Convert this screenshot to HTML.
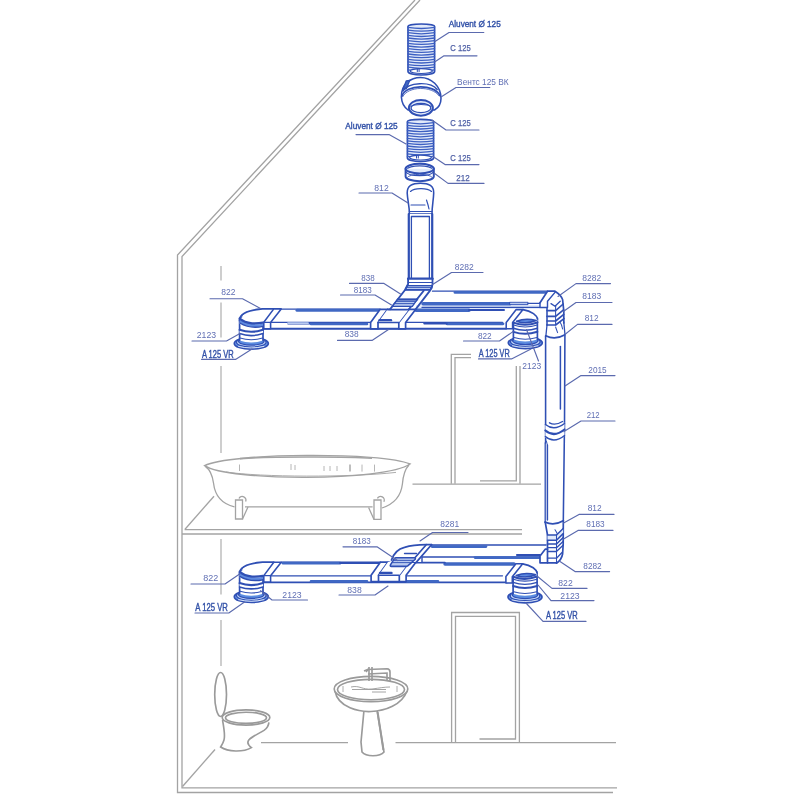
<!DOCTYPE html><html><head><meta charset="utf-8"><title>Ventilation scheme</title>
<style>html,body{margin:0;padding:0;background:#fff}svg{display:block;filter:blur(0.45px)}text{font-family:"Liberation Sans",sans-serif}</style></head><body>
<svg width="800" height="800" viewBox="0 0 800 800">
<rect width="800" height="800" fill="#fff"/>
<g fill="none" stroke="#a3a3a3" stroke-width="1.3" stroke-linecap="butt" stroke-linejoin="miter">
<path d="M415,0 L177.5,255 L177.5,792.5 L613,792.5"/>
<path d="M420,0 L182,256.5 L182,787.8 L617,787.8"/>
<path d="M184.6,529.6 L522,529.6"/>
<path d="M182,534 L522,534"/>
<path d="M185,529.2 L214,496.2"/>
<path d="M221,266 V280.5 M221,302.5 V337.5 M221,366 V453" stroke-width="1.05"/>
<path d="M221,539 V594.5 M221,620 V666" stroke-width="1.05"/>
<path d="M182.5,786.5 L215,749.5"/>
<path d="M261,742.6 H348 M395.5,742.6 H616"/>
<path d="M471,354.3 H451.3 V483.8 M471,357.6 H455 V483.8"/>
<path d="M516.3,366 V480.8 H480 M520,366 V483.8"/>
<path d="M412.5,484.2 H541"/>
<path d="M451.6,743 V612.5 H519.4 V743"/>
<path d="M455.5,743 V616.4 H515.5 V739 H479.5"/>
<path d="M204.6,465.6 C230,452.6 383,452 410,464 C385,481.4 228,481.6 204.6,465.6 Z" fill="#fff" stroke-width="1.4"/>
<path d="M226,472 C260,477.2 350,477.6 396,472.4" stroke-width="0.9"/>
<path d="M240,458.6 C270,456.6 345,456.4 372,458.2" stroke-width="1.6"/>
<path d="M205.6,466.6 C210.5,470 212.5,476 213.5,483 C214.5,492 218,503 234.5,506.8 M245,506.8 H372.6 M409,465 C404,470 403,477 402.4,484 C401.4,493 397,503 382,508"/>
<path d="M235.5,500 H242.5 V519 H235.5 Z M374,500 H381 V519.4 H374 Z" fill="#fff"/>
<path d="M239,498.6 a3.2,3.2 0 0 1 6.6,3 M377.4,498.4 a3.2,3.2 0 0 1 6.4,3.4 M242.5,519 L248,507 M374,519.4 L368.6,507.4"/>
<path d="M239.5,464.5 v6.5 M291,464 v6 M295,465 v5 M324,466 v5 M330,466 v5 M337,466 v5 M362,464.6 v7 M374.5,464.6 v7" stroke-width="0.8"/>
<path d="M350,464.6 v7" stroke-width="1.4"/>
<g stroke="#9a9a9a" stroke-width="1.65">
<ellipse cx="220.6" cy="694.5" rx="5.9" ry="22" fill="#fff"/>
<path d="M222.5,720 C224,728 225.4,735 224,740 C223,743.5 221.5,745.5 220.6,747 C228,752 243,752.5 251.4,747.6 C248.5,745.5 247,742.5 248.8,740 C251.5,736.8 259,733.5 264,730.4 C267,728.4 268.6,725.5 268.9,722.4" fill="#fff"/>
<ellipse cx="246" cy="717.5" rx="23.8" ry="7.6" fill="#fff"/>
<ellipse cx="246" cy="717.8" rx="20.5" ry="5.6"/>
<path d="M361,742 L364,710 H377 L384,752 C380,757 366,757 362,752 Z" fill="#fff"/>
<path d="M335,691 C338,708 360,712 371,711.5 C385,711 402,705 407,691" fill="#fff"/>
<ellipse cx="371" cy="689" rx="36.8" ry="12.6" fill="#fff"/>
<ellipse cx="371" cy="689.5" rx="33.5" ry="10.2"/>
<path d="M351,687 C360,685 362,690 372,689 C380,688 384,687 390,687 M352,689.5 H386 M372,692 h14" stroke-width="0.9"/>
<path d="M366,672 L368,669.5 L387,668.8 Q390,669 390,672 V681.5 M368,674 L387,673 V681"/>
<path d="M369,667 v14 M372,667 v14 M364,671 l5,-2"/>
<path d="M343,686 v6 M397,686 v6" stroke-width="0.8"/>
<path d="M377.6,712 L383.4,750" stroke-width="2"/>
</g>
</g>
<g fill="none" stroke="#2f4fb4" stroke-width="1.30" stroke-linecap="round" stroke-linejoin="round">
<path d="M408,26.2 A13.300000000000011,2.2 0 0 1 434.6,26.2 V71.4 A13.300000000000011,3.6 0 0 1 408,71.4 Z" fill="#e3ebfa" stroke-width="1.69"/>
<path d="M408,27.4 Q421.3,29.6 434.6,27.4" stroke="#3c5fc2" stroke-width="1.30"/>
<path d="M408,30.1 Q421.3,32.3 434.6,30.1" stroke="#3c5fc2" stroke-width="1.30"/>
<path d="M408,32.7 Q421.3,34.9 434.6,32.7" stroke="#3c5fc2" stroke-width="1.30"/>
<path d="M408,35.4 Q421.3,37.6 434.6,35.4" stroke="#3c5fc2" stroke-width="1.30"/>
<path d="M408,38.0 Q421.3,40.2 434.6,38.0" stroke="#3c5fc2" stroke-width="1.30"/>
<path d="M408,40.7 Q421.3,42.9 434.6,40.7" stroke="#3c5fc2" stroke-width="1.30"/>
<path d="M408,43.3 Q421.3,45.5 434.6,43.3" stroke="#3c5fc2" stroke-width="1.30"/>
<path d="M408,46.0 Q421.3,48.2 434.6,46.0" stroke="#3c5fc2" stroke-width="1.30"/>
<path d="M408,48.7 Q421.3,50.9 434.6,48.7" stroke="#3c5fc2" stroke-width="1.30"/>
<path d="M408,51.3 Q421.3,53.5 434.6,51.3" stroke="#3c5fc2" stroke-width="1.30"/>
<path d="M408,54.0 Q421.3,56.2 434.6,54.0" stroke="#3c5fc2" stroke-width="1.30"/>
<path d="M408,56.6 Q421.3,58.8 434.6,56.6" stroke="#3c5fc2" stroke-width="1.30"/>
<path d="M408,59.3 Q421.3,61.5 434.6,59.3" stroke="#3c5fc2" stroke-width="1.30"/>
<path d="M408,61.9 Q421.3,64.1 434.6,61.9" stroke="#3c5fc2" stroke-width="1.30"/>
<path d="M408,64.6 Q421.3,66.8 434.6,64.6" stroke="#3c5fc2" stroke-width="1.30"/>
<path d="M408,67.2 Q421.3,69.4 434.6,67.2" stroke="#3c5fc2" stroke-width="1.30"/>
<path d="M408,69.9 Q421.3,72.1 434.6,69.9" stroke="#3c5fc2" stroke-width="1.30"/>
<ellipse cx="421.3" cy="71.10000000000001" rx="11.100000000000012" ry="2.4000000000000004" fill="#fff" stroke-width="1.17"/>
<path d="M417.3,68.9 v2.6 M419.1,68.9 v2.6" stroke-width="1.04"/>
<path d="M401.4,97 C401,84 411,77.5 420.5,77.5 C431,77.5 441,86 441,98.5 C441,104 438,108 434.5,110 L408,110 C404,107 401.6,102 401.4,97 Z" fill="#fff" stroke-width="1.56"/>
<path d="M406.2,81 L409.7,80.4 L406.3,88.8 L403.2,89 Z" fill="#4068c4"/>
<path d="M403.2,91 C408,81.8 431,81.2 437.2,89.5" stroke-width="1.43"/>
<path d="M401.8,96.3 C406,84 434,83.6 440,95.5" stroke-width="1.69"/>
<path d="M402.8,96.6 C408,86 432,85.6 439,95.8" stroke-width="0.78"/>
<ellipse cx="420.9" cy="107.8" rx="12" ry="7.9" fill="#e3ebfa" stroke-width="1.95"/>
<ellipse cx="420.9" cy="108" rx="9.9" ry="4.6" fill="#fff" stroke-width="1.30"/>
<path d="M411,106.5 C414,103.8 428,103.8 431,106.5" stroke-width="1.04"/>
<path d="M407.4,121.5 A13.100000000000023,2.2 0 0 1 433.6,121.5 V157.9 A13.100000000000023,3.6 0 0 1 407.4,157.9 Z" fill="#e3ebfa" stroke-width="1.69"/>
<path d="M407.4,122.7 Q420.5,124.9 433.6,122.7" stroke="#3c5fc2" stroke-width="1.30"/>
<path d="M407.4,125.3 Q420.5,127.5 433.6,125.3" stroke="#3c5fc2" stroke-width="1.30"/>
<path d="M407.4,127.9 Q420.5,130.1 433.6,127.9" stroke="#3c5fc2" stroke-width="1.30"/>
<path d="M407.4,130.5 Q420.5,132.7 433.6,130.5" stroke="#3c5fc2" stroke-width="1.30"/>
<path d="M407.4,133.1 Q420.5,135.3 433.6,133.1" stroke="#3c5fc2" stroke-width="1.30"/>
<path d="M407.4,135.7 Q420.5,137.9 433.6,135.7" stroke="#3c5fc2" stroke-width="1.30"/>
<path d="M407.4,138.3 Q420.5,140.5 433.6,138.3" stroke="#3c5fc2" stroke-width="1.30"/>
<path d="M407.4,140.8 Q420.5,143.0 433.6,140.8" stroke="#3c5fc2" stroke-width="1.30"/>
<path d="M407.4,143.4 Q420.5,145.6 433.6,143.4" stroke="#3c5fc2" stroke-width="1.30"/>
<path d="M407.4,146.0 Q420.5,148.2 433.6,146.0" stroke="#3c5fc2" stroke-width="1.30"/>
<path d="M407.4,148.6 Q420.5,150.8 433.6,148.6" stroke="#3c5fc2" stroke-width="1.30"/>
<path d="M407.4,151.2 Q420.5,153.4 433.6,151.2" stroke="#3c5fc2" stroke-width="1.30"/>
<path d="M407.4,153.8 Q420.5,156.0 433.6,153.8" stroke="#3c5fc2" stroke-width="1.30"/>
<path d="M407.4,156.4 Q420.5,158.6 433.6,156.4" stroke="#3c5fc2" stroke-width="1.30"/>
<ellipse cx="420.5" cy="157.6" rx="10.900000000000023" ry="2.4000000000000004" fill="#fff" stroke-width="1.17"/>
<path d="M416.5,155.4 v2.6 M418.3,155.4 v2.6" stroke-width="1.04"/>
<path d="M405.6,168.6 A14.1,4.8 0 0 1 433.8,168.6 V176.4 A14.1,4.8 0 0 1 405.6,176.4 Z" fill="#fff" stroke-width="1.95"/>
<path d="M407.2,169.4 A12.5,3.6 0 0 1 432.2,169.4" stroke-width="1.17"/>
<path d="M405.6,168.8 A14.1,4.6 0 0 0 433.8,168.8" fill="#e3ebfa" stroke-width="1.95"/>
<path d="M405.8,171.8 A14.1,4.6 0 0 0 433.6,171.8" stroke-width="1.17"/>
<path d="M407.5,177.2 A12.4,3.4 0 0 1 432,177.2" stroke-width="0.91"/>
<path d="M407.2,193 C407,186 412,183.2 420.5,183.2 C429,183.2 434,186 433.7,193 C433.5,200 432,206 432,214 L409.4,214 C409.4,206 407.5,200 407.2,193 Z" fill="#fff" stroke-width="1.56"/>
<path d="M410.5,191.5 C414,188 427,187.5 431.5,191.5" stroke-width="1.17"/>
<path d="M411,205 H425 M426.5,200 C427.5,203 428.5,206 429,209" stroke-width="1.17"/>
<path d="M409.4,211.5 H432" stroke-width="1.17"/>
<path d="M409.4,214 V278.7 H432.3 V214 Z" fill="#fff" stroke="none"/>
<path d="M408.8,214 V278.7 M432.2,214 V278.7" stroke-width="2.21"/>
<path d="M411.4,216.5 V278.7 M429.4,216.5 V278.7 M411.4,216.5 H429.4" stroke-width="1.30"/>
</g>
<g fill="none" stroke="#2f4fb4" stroke-width="1.30" stroke-linecap="round" stroke-linejoin="round">
<path d="M424,291.2 H548 L540,303 V307.5 H416 L424,303 Z" fill="#fff" stroke="none"/>
<path d="M432.5,291.2 H547.5" stroke-width="1.30"/>
<path d="M455,292.4 H545" stroke="#4068c4" stroke-width="2.80"/>
<path d="M416,305 H540 V309 H416 Z" fill="#e3ebfa" stroke="none"/>
<path d="M423,303.8 H510" stroke="#4068c4" stroke-width="3.50"/>
<path d="M510,302.3 H528 V304.6 H510 Z" fill="#b9caf0" stroke-width="0.91"/>
<path d="M528,303.4 H540" stroke-width="1.30"/>
<path d="M422,307.4 H540" stroke-width="1.17"/>
<path d="M540,302.8 L547.5,291.2 H555 Q562,296 562.8,300 L563.8,312 V323 L565,335.5 H545.6 L546,322.5 V307.5 H540 Z" fill="#fff" stroke="none"/>
<path d="M540,302.8 L547.5,291.2 H555 Q561.5,295.5 562.6,299.6 L563.8,311 V323" stroke-width="1.69"/>
<path d="M540,302.8 V307.5 H547.5 V301.2 L555,292.4" stroke-width="1.43"/>
<path d="M551,303.6 L555,306.3 L560.2,301.2" stroke-width="1.30"/>
<path d="M547,307.5 V325" stroke-width="1.56"/>
<path d="M555.6,306.3 V325" stroke-width="1.04"/>
<path d="M547,310.6 H555.6 L563.2,304 M547,316.4 H555.6 L563.5,309.8 M547,321 H555.6 L563.8,314.4 M547,325 H555.6 L564,318.6" stroke-width="1.62"/>
<path d="M547,325 L545.9,335.8 M563.8,322 L565,335"/>
<path d="M555.6,327 Q556.6,330 557.6,332.6 M560,322 Q562,325 562.6,329" stroke-width="1.04"/>
<path d="M545.6,336 V522.2 Q554,526 563.3,520.8 L565,336 Z" fill="#fff" stroke="none"/>
<path d="M545.7,335.8 Q555,340.5 565,334.8" stroke-width="1.69"/>
<path d="M545.6,336 V443 M564.9,336 L564.5,426 L564.3,440 L563.3,521" stroke-width="1.56"/>
<path d="M560.4,346.5 V409" stroke-width="1.49"/>
<path d="M547.4,445 V520" stroke-width="1.49"/>
<path d="M545.2,443 V522" stroke-width="1.30"/>
<path d="M547.4,445 L546.4,441" stroke-width="0.91"/>
<path d="M545.4,424.5 Q554,431 564.5,422.5 V436 Q554,444 545.4,437.5 Z" fill="#fff" stroke="none"/>
<path d="M549.5,422.8 Q555,426 562.5,421.5" stroke-width="1.43"/>
<path d="M545.4,424.5 Q554,431.5 564.5,423.5" stroke-width="1.43"/>
<path d="M545.4,430.5 Q554,438 564.5,429.5" stroke-width="2.21"/>
<path d="M545.4,436.5 Q554,444 564.5,435.5" stroke-width="1.43"/>
<path d="M281.2,309.4 H523 L512.5,328.8 H263.8 V322.3 L273.8,309.4 Z" fill="#fff" stroke="none"/>
<path d="M281.2,309.1 H380 M387.5,309.1 H390" stroke-width="1.43"/>
<path d="M297,310.2 H380" stroke="#4068c4" stroke-width="3.00"/>
<path d="M416,310.2 H469" stroke="#4068c4" stroke-width="3.50"/>
<path d="M469,310 H504" stroke-width="1.95"/>
<path d="M270.6,322.4 H370.6 M405.6,322.4 H502.5" stroke-width="1.30"/>
<path d="M288,323.8 H340" stroke-width="1.56"/>
<path d="M288,323.2 H308" stroke="#b9caf0" stroke-width="1.82"/>
<path d="M311,324 H367" stroke="#4068c4" stroke-width="2.60"/>
<path d="M447,323.8 H503" stroke="#4068c4" stroke-width="2.80"/>
<path d="M424,323.6 H447" stroke-width="1.56"/>
<path d="M263.8,328.7 H506" stroke-width="2.08"/>
<g transform="translate(0,0)">
<ellipse cx="251.3" cy="343.4" rx="17" ry="5.8" fill="#6a97e6" stroke-width="1.69"/>
<ellipse cx="251.3" cy="342.3" rx="14.8" ry="4.8" fill="#c4d8f8" stroke-width="1.30"/>
<ellipse cx="251.3" cy="341.2" rx="12.8" ry="3.9" fill="#5b8ce0" stroke-width="1.17"/>
<path d="M238.5,346.4 Q251,349.6 264,346.4" stroke="#fff" stroke-width="0.78"/>
<path d="M239.6,318 V340.4 Q251,344.4 263,340.4 V322 Z" fill="#fff" stroke="none"/>
<path d="M239.6,318 V340.4 M263,324 V340.4" stroke-width="1.69"/>
<path d="M240,338 Q251,341.4 262.6,338" stroke-width="1.04"/>
<path d="M239.6,329.6 Q251,333.6 263,329.6 V333.4 Q251,337.4 239.6,333.4 Z" fill="#fff" stroke="none"/>
<path d="M239.6,329.8 Q251,333.8 263,329.8" stroke-width="2.08"/>
<path d="M239.6,333.6 Q251,337.6 263,333.6" stroke-width="1.56"/>
<path d="M239.6,320 C239,313 248,310 262.5,308.9 H273.8 L263.8,322.3 L263,326 Q251,329 239.6,324 Z" fill="#fff" stroke="none"/>
<path d="M239.6,321 C239,313.5 249,310 262.5,308.9 H273.8" stroke-width="1.69"/>
<path d="M239.8,318.6 Q251,326.6 263,323.4 L263,326.2 Q250,329.4 239.8,322.8 Z" fill="#5f8be0" stroke="none"/>
<path d="M239.8,318.6 Q244,322.4 252,323.3 Q258,323.6 263,322.6" stroke-width="2.21"/>
<path d="M239.8,323 Q250,329.2 263,326.4" stroke-width="1.43"/>
<path d="M241.5,317.5 Q241.2,314.5 244,313.5" stroke-width="0.91"/>
<path d="M273.8,308.9 H281.2 L270.6,322.4 V328.8 H263.8 V322.3 Z" fill="#fff" stroke-width="1.56"/>
<path d="M263.8,322.3 H270.6" stroke-width="1.17"/>
</g>
<g transform="translate(0,0)">
<ellipse cx="525.3" cy="342.8" rx="17" ry="5.8" fill="#6a97e6" stroke-width="1.69"/>
<ellipse cx="525.3" cy="341.7" rx="14.8" ry="4.8" fill="#c4d8f8" stroke-width="1.30"/>
<ellipse cx="525.3" cy="340.6" rx="12.8" ry="3.9" fill="#5b8ce0" stroke-width="1.17"/>
<path d="M512.5,345.8 Q525,349 538,345.8" stroke="#fff" stroke-width="0.78"/>
<path d="M513.4,322 V339.6 Q525,343.6 537.4,339.6 V318 Z" fill="#fff" stroke="none"/>
<path d="M513.4,322 V339.6 M537.4,318 V339.6" stroke-width="1.69"/>
<path d="M513.4,328.2 Q525,332.2 537.4,328.2" stroke-width="1.43"/>
<path d="M513.4,331.8 Q525,335.8 537.4,331.8" stroke-width="1.95"/>
<path d="M514,337.6 Q525,341 537,337.6" stroke-width="1.04"/>
<path d="M523,309.6 Q534,312 537.4,318 V321.5 Q526,326 513.4,322.5 V322 Z" fill="#fff" stroke="none"/>
<path d="M523,309.6 Q529,310.6 533.5,313.6 Q537,316 537.4,319" stroke-width="1.69"/>
<path d="M516.5,321.2 Q526,317.8 536.2,320.6 Q526,324.6 516.5,321.2 Z" fill="#5f8be0" stroke-width="1.56"/>
<path d="M513.4,322.6 Q525,327 537.4,322.4" stroke-width="2.08"/>
<path d="M513.6,325 Q525,329 537.2,325" stroke-width="1.17"/>
<path d="M506.2,328.8 V322.4 L516.2,309.6 H523 L512.6,322.6 V328.8 Z" fill="#fff" stroke-width="1.56"/>
</g>
<path d="M408.1,278.7 V284 L405,290 L390,309.4 H410 L430,290.6 Q432.8,287 432.5,284 V278.7 Z" fill="#fff" stroke="none"/>
<g transform="translate(0,0)">
<path d="M380,309.4 H387.5 L378,322.5 V328.8 H370.6 V322.5 Z" fill="#fff" stroke-width="1.69"/>
<path d="M408.8,309.4 H415.6 L405.6,322.5 V328.8 H398.8 V322.5 Z" fill="#fff" stroke-width="1.69"/>
<path d="M387.5,309.4 H408.8 L398.8,322.5 H378 Z" fill="#fff" stroke="none"/>
<path d="M378,322.5 H398.8 M378,328.8 H398.8" stroke-width="1.43"/>
<path d="M379.5,320.2 H391" stroke-width="2.34"/>
</g>
<path d="M408.1,278.7 V284 L405,290 L391.5,308 H409.5 L424,290.6 L430,290.6 Q432.8,287 432.5,284 V278.7 Z" fill="#fff" stroke="none"/>
<path d="M408.1,278.7 H432.5" stroke-width="2.34"/>
<path d="M408.1,282.5 H432.5" stroke-width="1.17"/>
<path d="M407.2,285.6 H432.3 L430.3,289.6 H405.2 Z" fill="#b9caf0" stroke-width="1.17"/>
<path d="M406.4,287.4 H431.4" stroke-width="0.91"/>
<path d="M408.1,278.7 V284 L405,290 L390,309.4" stroke-width="1.82"/>
<path d="M432.5,278.7 V284 Q432.6,287.4 430,290.6 L415.6,309.4" stroke-width="1.82"/>
<path d="M423.8,290.6 L408.8,309.4" stroke-width="1.69"/>
<path d="M405,290.2 H430" stroke-width="1.17"/>
<path d="M397.7,299.4 H417.3 L412.3,306.3 H392.4 Z" fill="#b9caf0" stroke-width="1.30"/>
<path d="M396.4,301.4 H416 M395,303.6 H414.4" stroke-width="0.91"/>
<path d="M397.7,299.4 H417.3" stroke-width="1.95"/>
<path d="M387.5,309.6 H409" stroke-width="1.56"/>
<path d="M431.5,545 H548 L540,557 V562.5 H422 V557 Z" fill="#fff" stroke="none"/>
<path d="M431.5,545 H546" stroke-width="1.43"/>
<path d="M432,546.6 H486" stroke="#4068c4" stroke-width="2.60"/>
<path d="M422.5,557 H540" stroke-width="1.43"/>
<path d="M475,557.6 H540" stroke="#4068c4" stroke-width="2.60"/>
<path d="M517,555 H540" stroke-width="2.08"/>
<path d="M422,557 V562.5" stroke-width="1.43"/>
<path d="M422,562.4 H445" stroke-width="1.30"/>
<path d="M545.2,522.2 L547.5,535 V549.2 H545.2 L540,556 V562.8 H556.5 Q562.5,559 562.8,553 L563.2,544 V520.8 Z" fill="#fff" stroke="none"/>
<path d="M545.2,522.2 Q554,526.2 563.3,520.8" stroke-width="1.82"/>
<path d="M545.2,522.2 L547.5,535 V562.8 M563.3,520.8 L563.2,544 L562.6,554 Q561.5,560 556.5,563.2" stroke-width="1.69"/>
<path d="M555,529.8 Q556.5,532 558,535" stroke-width="1.04"/>
<path d="M547.5,535 H556.5 L563.2,528.5 V533.6 L556.5,540.2 H547.5 Z" fill="#e3ebfa" stroke="none"/>
<path d="M547.5,535 H556.5 L563.2,528.5 M547.5,540.2 H556.5 L563.2,533.6 M547.5,544 H556.5 L563.2,537.5" stroke-width="1.56"/>
<path d="M556.5,535 V563" stroke-width="1.04"/>
<path d="M547.5,547.7 H556.5 L563,541.5 M547.5,551.5 H556.5 L562.8,545.5 M547.5,558.2 H556.5 L562,552.5" stroke-width="1.30"/>
<path d="M540,556 L545.2,549.2 H547.5 M540,556 V562.8 H556.5" stroke-width="1.69"/>
<path d="M281.2,562.7 H523.5 L512.5,582.1 H263.8 V575.6 L273.8,562.7 Z" fill="#fff" stroke="none"/>
<path d="M281.2,562.3 H380.5 M388,562.3 H398" stroke-width="1.43"/>
<path d="M283,563.2 H340" stroke="#4068c4" stroke-width="2.80"/>
<path d="M340,563 H380" stroke-width="1.95"/>
<path d="M445,564 H514" stroke="#4068c4" stroke-width="3.40"/>
<path d="M416,562.8 H445" stroke-width="1.56"/>
<path d="M270.6,575.8 H370.8 M406,575.8 H502.5" stroke-width="1.30"/>
<path d="M263.8,582.4 H507" stroke-width="1.69"/>
<path d="M311,581.4 H367 M407,581.4 H438" stroke="#4068c4" stroke-width="2.60"/>
<g transform="translate(0,253.3)">
<ellipse cx="251.3" cy="343.4" rx="17" ry="5.8" fill="#6a97e6" stroke-width="1.69"/>
<ellipse cx="251.3" cy="342.3" rx="14.8" ry="4.8" fill="#c4d8f8" stroke-width="1.30"/>
<ellipse cx="251.3" cy="341.2" rx="12.8" ry="3.9" fill="#5b8ce0" stroke-width="1.17"/>
<path d="M238.5,346.4 Q251,349.6 264,346.4" stroke="#fff" stroke-width="0.78"/>
<path d="M239.6,318 V340.4 Q251,344.4 263,340.4 V322 Z" fill="#fff" stroke="none"/>
<path d="M239.6,318 V340.4 M263,324 V340.4" stroke-width="1.69"/>
<path d="M240,338 Q251,341.4 262.6,338" stroke-width="1.04"/>
<path d="M239.6,329.6 Q251,333.6 263,329.6 V333.4 Q251,337.4 239.6,333.4 Z" fill="#fff" stroke="none"/>
<path d="M239.6,329.8 Q251,333.8 263,329.8" stroke-width="2.08"/>
<path d="M239.6,333.6 Q251,337.6 263,333.6" stroke-width="1.56"/>
<path d="M239.6,320 C239,313 248,310 262.5,308.9 H273.8 L263.8,322.3 L263,326 Q251,329 239.6,324 Z" fill="#fff" stroke="none"/>
<path d="M239.6,321 C239,313.5 249,310 262.5,308.9 H273.8" stroke-width="1.69"/>
<path d="M239.8,318.6 Q251,326.6 263,323.4 L263,326.2 Q250,329.4 239.8,322.8 Z" fill="#5f8be0" stroke="none"/>
<path d="M239.8,318.6 Q244,322.4 252,323.3 Q258,323.6 263,322.6" stroke-width="2.21"/>
<path d="M239.8,323 Q250,329.2 263,326.4" stroke-width="1.43"/>
<path d="M241.5,317.5 Q241.2,314.5 244,313.5" stroke-width="0.91"/>
<path d="M273.8,308.9 H281.2 L270.6,322.4 V328.8 H263.8 V322.3 Z" fill="#fff" stroke-width="1.56"/>
<path d="M263.8,322.3 H270.6" stroke-width="1.17"/>
</g>
<g transform="translate(-0.3,254.20000000000002)">
<ellipse cx="525.3" cy="342.8" rx="17" ry="5.8" fill="#6a97e6" stroke-width="1.69"/>
<ellipse cx="525.3" cy="341.7" rx="14.8" ry="4.8" fill="#c4d8f8" stroke-width="1.30"/>
<ellipse cx="525.3" cy="340.6" rx="12.8" ry="3.9" fill="#5b8ce0" stroke-width="1.17"/>
<path d="M512.5,345.8 Q525,349 538,345.8" stroke="#fff" stroke-width="0.78"/>
<path d="M513.4,322 V339.6 Q525,343.6 537.4,339.6 V318 Z" fill="#fff" stroke="none"/>
<path d="M513.4,322 V339.6 M537.4,318 V339.6" stroke-width="1.69"/>
<path d="M513.4,328.2 Q525,332.2 537.4,328.2" stroke-width="1.43"/>
<path d="M513.4,331.8 Q525,335.8 537.4,331.8" stroke-width="1.95"/>
<path d="M514,337.6 Q525,341 537,337.6" stroke-width="1.04"/>
<path d="M523,309.6 Q534,312 537.4,318 V321.5 Q526,326 513.4,322.5 V322 Z" fill="#fff" stroke="none"/>
<path d="M523,309.6 Q529,310.6 533.5,313.6 Q537,316 537.4,319" stroke-width="1.69"/>
<path d="M516.5,321.2 Q526,317.8 536.2,320.6 Q526,324.6 516.5,321.2 Z" fill="#5f8be0" stroke-width="1.56"/>
<path d="M513.4,322.6 Q525,327 537.4,322.4" stroke-width="2.08"/>
<path d="M513.6,325 Q525,329 537.2,325" stroke-width="1.17"/>
<path d="M506.2,328.8 V322.4 L516.2,309.6 H523 L512.6,322.6 V328.8 Z" fill="#fff" stroke-width="1.56"/>
</g>
<path d="M392.5,558 Q396,549.5 404.5,547.3 Q413,545 426.2,544.7 H431.5 L417,562 H390 Z" fill="#fff" stroke="none"/>
<g transform="translate(0.5,252.70000000000002)">
<path d="M380,309.4 H387.5 L378,322.5 V328.8 H370.6 V322.5 Z" fill="#fff" stroke-width="1.69"/>
<path d="M408.8,309.4 H415.6 L405.6,322.5 V328.8 H398.8 V322.5 Z" fill="#fff" stroke-width="1.69"/>
<path d="M387.5,309.4 H408.8 L398.8,322.5 H378 Z" fill="#fff" stroke="none"/>
<path d="M378,322.5 H398.8 M378,328.8 H398.8" stroke-width="1.43"/>
<path d="M379.5,320.2 H391" stroke-width="2.34"/>
</g>
<path d="M392.5,558 Q396,549.5 404.5,547.3 Q413,545 426.2,544.7 H431.5 L416.5,562 H390.5 Z" fill="#fff" stroke="none"/>
<path d="M391.5,560 Q395,549.6 404.5,547.3 Q413,545 426.2,544.7 H431.5" stroke-width="1.82"/>
<path d="M426.2,544.7 L409.5,564 M431.5,544.7 L416.2,562.4" stroke-width="1.69"/>
<path d="M404.5,553.5 H416.5" stroke-width="1.30"/>
<path d="M396,557.8 H414.6 Q416,558 415,559.5 L408,565.6 Q407,566.4 405.5,566.4 H391.5 Q389.6,566.2 390.6,564.6 L394.4,558.6 Q395,557.8 396,557.8 Z" fill="#b9caf0" stroke-width="1.56"/>
<path d="M394,560.4 H413.6 M392.6,562.6 H411" stroke-width="0.91"/>
</g>
<g fill="none" stroke="#5b6aae" stroke-width="1.15" stroke-linecap="round" stroke-linejoin="round">
<path d="M483.8,32.5 H449 L435,41.5"/>
<path d="M477,55.8 H444 L435,61.8"/>
<path d="M489.8,87.5 H456 L441,97"/>
<path d="M479,130 H446 L432,120"/>
<path d="M356,134.6 H389 L406,144"/>
<path d="M479,164.6 H445 L433,156.6"/>
<path d="M484,183.4 H448 L434,173"/>
<path d="M359,193 H392 L408,203"/>
<path d="M210,298.7 H242.5 L260.5,308.4"/>
<path d="M192,341 H226.5 L240,333.5"/>
<path d="M201.6,359.4 H235.5 L252,349"/>
<path d="M349.5,283.4 H384 L400.5,294"/>
<path d="M340.5,295 H375 L391.5,305"/>
<path d="M337.5,340.4 H372 L388.5,329.6"/>
<path d="M483,272.5 H451.5 L432.6,284.5"/>
<path d="M610.5,283.6 H576 L558,296.5"/>
<path d="M612,302.5 H576 L563.4,311.5"/>
<path d="M612,324.4 H577.5 L565.5,334"/>
<path d="M463.5,341 H499.5 L513,331.6"/>
<path d="M478.5,358.9 H511.5 L531,349"/>
<path d="M615,375.6 H581 L565,386"/>
<path d="M615,421 H581 L564,431.6"/>
<path d="M614,514.4 H579 L563.6,523"/>
<path d="M613,530.4 H578 L563.6,539"/>
<path d="M609.6,571.6 H575 L560,561.6"/>
<path d="M587,588.4 H552 L537,576"/>
<path d="M594,600.6 H551 L538,585"/>
<path d="M586,621.4 H543 L526,603"/>
<path d="M191,584 H225 L240,573.8"/>
<path d="M307.5,600 H272 L260.6,590.6"/>
<path d="M195,613 H228.8 L244.5,602"/>
<path d="M343,546.8 H377 L397.5,560.6"/>
<path d="M468,532.5 H432.5 L420,541"/>
<path d="M339,595 H375 L388,586"/>
<path d="M538.5,361 L526.5,329.5"/>
</g>
<text x="448.8" y="27.3" font-size="9.3" stroke="#3352a8" stroke-width="0.4" fill="#3352a8" textLength="51.9" lengthAdjust="spacingAndGlyphs">Aluvent Ø 125</text>
<text x="450.3" y="51.199999999999996" font-size="9.4" stroke="#4f60a6" stroke-width="0.25" fill="#4f60a6" textLength="20.4" lengthAdjust="spacingAndGlyphs">C 125</text>
<text x="457.1" y="85.2" font-size="9.8" fill="#606fb4" textLength="51.6" lengthAdjust="spacingAndGlyphs">Вентс 125 ВК</text>
<text x="450.3" y="126.10000000000001" font-size="9.4" stroke="#4f60a6" stroke-width="0.25" fill="#4f60a6" textLength="20.4" lengthAdjust="spacingAndGlyphs">C 125</text>
<text x="345.3" y="129.4" font-size="9.3" stroke="#3352a8" stroke-width="0.4" fill="#3352a8" textLength="52.4" lengthAdjust="spacingAndGlyphs">Aluvent Ø 125</text>
<text x="450.3" y="161.4" font-size="9.4" stroke="#4f60a6" stroke-width="0.25" fill="#4f60a6" textLength="20.4" lengthAdjust="spacingAndGlyphs">C 125</text>
<text x="456.3" y="181.4" font-size="9.4" stroke="#4f60a6" stroke-width="0.25" fill="#4f60a6" textLength="13.4" lengthAdjust="spacingAndGlyphs">212</text>
<text x="374.3" y="190.7" font-size="9.8" fill="#606fb4" textLength="14.4" lengthAdjust="spacingAndGlyphs">812</text>
<text x="221.3" y="294.9" font-size="9.8" fill="#606fb4" textLength="14.2" lengthAdjust="spacingAndGlyphs">822</text>
<text x="196.8" y="337.7" font-size="9.8" fill="#606fb4" textLength="19.3" lengthAdjust="spacingAndGlyphs">2123</text>
<text x="201.9" y="357.5" font-size="10.3" stroke="#3352a8" stroke-width="0.4" fill="#3352a8" textLength="31.8" lengthAdjust="spacingAndGlyphs">A 125 VR</text>
<text x="361.3" y="280.7" font-size="9.8" fill="#606fb4" textLength="13.4" lengthAdjust="spacingAndGlyphs">838</text>
<text x="353.7" y="293.09999999999997" font-size="9.8" fill="#606fb4" textLength="18.0" lengthAdjust="spacingAndGlyphs">8183</text>
<text x="344.7" y="337.2" font-size="9.8" fill="#606fb4" textLength="14.0" lengthAdjust="spacingAndGlyphs">838</text>
<text x="454.8" y="270.2" font-size="9.8" fill="#606fb4" textLength="18.9" lengthAdjust="spacingAndGlyphs">8282</text>
<text x="582.3" y="280.7" font-size="9.8" fill="#606fb4" textLength="18.9" lengthAdjust="spacingAndGlyphs">8282</text>
<text x="582.3" y="299.3" font-size="9.8" fill="#606fb4" textLength="18.9" lengthAdjust="spacingAndGlyphs">8183</text>
<text x="584.6999999999999" y="321.2" font-size="9.8" fill="#606fb4" textLength="14.0" lengthAdjust="spacingAndGlyphs">812</text>
<text x="477.90000000000003" y="339.2" font-size="9.8" fill="#606fb4" textLength="13.8" lengthAdjust="spacingAndGlyphs">822</text>
<text x="478.8" y="357" font-size="10.3" stroke="#3352a8" stroke-width="0.4" fill="#3352a8" textLength="30.9" lengthAdjust="spacingAndGlyphs">A 125 VR</text>
<text x="588.3" y="373.09999999999997" font-size="9.8" fill="#606fb4" textLength="18.4" lengthAdjust="spacingAndGlyphs">2015</text>
<text x="586.6999999999999" y="418.09999999999997" font-size="9.8" fill="#606fb4" textLength="13.0" lengthAdjust="spacingAndGlyphs">212</text>
<text x="587.6999999999999" y="511.09999999999997" font-size="9.8" fill="#606fb4" textLength="14.0" lengthAdjust="spacingAndGlyphs">812</text>
<text x="586.3" y="527.3000000000001" font-size="9.8" fill="#606fb4" textLength="18.4" lengthAdjust="spacingAndGlyphs">8183</text>
<text x="583.3" y="568.7" font-size="9.8" fill="#606fb4" textLength="18.4" lengthAdjust="spacingAndGlyphs">8282</text>
<text x="558.3" y="586.3000000000001" font-size="9.8" fill="#606fb4" textLength="14.4" lengthAdjust="spacingAndGlyphs">822</text>
<text x="560.3" y="599.1" font-size="9.8" fill="#606fb4" textLength="19.4" lengthAdjust="spacingAndGlyphs">2123</text>
<text x="545.9" y="619" font-size="10.3" stroke="#3352a8" stroke-width="0.4" fill="#3352a8" textLength="31.8" lengthAdjust="spacingAndGlyphs">A 125 VR</text>
<text x="203.3" y="581.2" font-size="9.8" fill="#606fb4" textLength="15.0" lengthAdjust="spacingAndGlyphs">822</text>
<text x="282.3" y="598.1" font-size="9.8" fill="#606fb4" textLength="19.4" lengthAdjust="spacingAndGlyphs">2123</text>
<text x="195.3" y="610.5" font-size="10.3" stroke="#3352a8" stroke-width="0.4" fill="#3352a8" textLength="32.6" lengthAdjust="spacingAndGlyphs">A 125 VR</text>
<text x="352.8" y="543.7" font-size="9.8" fill="#606fb4" textLength="17.9" lengthAdjust="spacingAndGlyphs">8183</text>
<text x="440.3" y="526.7" font-size="9.8" fill="#606fb4" textLength="18.8" lengthAdjust="spacingAndGlyphs">8281</text>
<text x="347.3" y="592.5" font-size="9.8" fill="#606fb4" textLength="14.4" lengthAdjust="spacingAndGlyphs">838</text>
<text x="522.3" y="369.2" font-size="9.8" fill="#606fb4" textLength="18.9" lengthAdjust="spacingAndGlyphs">2123</text>
</svg></body></html>
